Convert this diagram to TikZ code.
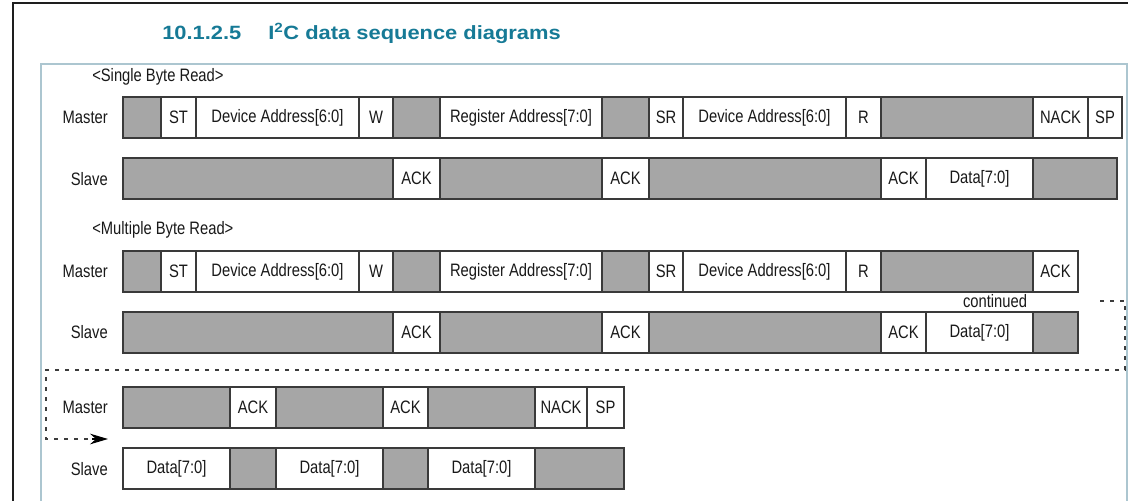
\documentclass[tikz,border=0pt]{standalone}
\usepackage{fontspec}
\setmainfont{Liberation Sans}
\newfontfamily\narrowsans[FakeStretch=0.82]{Liberation Sans}
\newfontfamily\widesans[FakeStretch=1.14]{Liberation Sans}
\usetikzlibrary{arrows.meta}

\definecolor{titleteal}{RGB}{22,122,150}
\definecolor{pageframe}{RGB}{30,30,30}
\definecolor{panelblue}{RGB}{172,198,208}
\definecolor{slotgray}{RGB}{166,166,166}
\definecolor{slotline}{RGB}{58,58,58}
\definecolor{inktext}{RGB}{25,25,25}
\definecolor{guideline}{RGB}{60,60,60}

\newcommand\seqfont{\narrowsans\fontsize{13.5}{15}\selectfont}
\newcommand\headfont{\widesans\fontsize{14.4}{17}\selectfont\bfseries}

\tikzset{
  slot/.style={draw=slotline, line width=0.9pt, fill=white, inner sep=0pt,
               outer sep=0pt, minimum height=30.75pt, text=inktext, font=\seqfont},
  idle/.style={slot, fill=slotgray},
  lane/.style={anchor=east, inner sep=0pt, text=inktext, font=\seqfont},
  caption/.style={anchor=west, inner sep=0pt, text=inktext, font=\seqfont},
  heading/.style={anchor=base west, inner sep=0pt, text=titleteal, font=\headfont},
  wrapline/.style={draw=guideline, line width=0.8pt, dash pattern=on 3pt off 4.5pt},
  wraptip/.style={draw=black, line width=0.8pt, -{Stealth[length=13.5pt, width=8pt, inset=4.5pt]}},
}

% one row of slots: #1 row name, #2 top edge, #3 list of left/right/style/text
\newcommand\slotrow[3]{%
  \foreach \xa/\xb/\sty/\txt [count=\k] in {#3}{%
    \pgfmathsetmacro\slotw{(\xb-\xa)*0.75}%
    \node[\sty, minimum width=\slotw pt, anchor=north west] (#1-\k) at (\xa,#2) {\txt};
  }}

\begin{document}
\begin{tikzpicture}[x=0.75pt, y=-0.75pt]
  \useasboundingbox (0,0) rectangle (1128,500);
  \fill[white] (0,0) rectangle (1128,500);
  \begin{scope}
    \clip (0,0) rectangle (1128,500);
    \draw[pageframe, line width=1.5pt] (13,2.5) rectangle (1150,520);
    \draw[panelblue, line width=1.5pt] (40.5,64) rectangle (1127,520);
  \end{scope}

  % section heading
  \node[heading] (secno) at (162,39.5) {10.1.2.5};
  \node[heading] (sectitle) at (268,39.5) {I\textsuperscript{2}C data sequence diagrams};

  % single byte read
  \node[caption] (single) at (92,77) {<Single Byte Read>};
  \node[lane] (m1lab) at (108,117.5) {Master};
  \node[lane] (s1lab) at (108,179) {Slave};
  \slotrow{m1}{97}{123/161/idle/{}, 161/196/slot/ST, 196/359/slot/{Device Address[6:0]},
    359/393/slot/W, 393/440/idle/{}, 440/602/slot/{Register Address[7:0]}, 602/649/idle/{},
    649/683/slot/SR, 683/846/slot/{Device Address[6:0]}, 846/881/slot/R, 881/1033/idle/{},
    1033/1088/slot/NACK, 1088/1122/slot/SP}
  \slotrow{s1}{158}{123/393/idle/{}, 393/440/slot/ACK, 440/602/idle/{}, 602/649/slot/ACK,
    649/881/idle/{}, 881/926/slot/ACK, 926/1033/slot/{Data[7:0]}, 1033/1117/idle/{}}

  % multiple byte read
  \node[caption] (multi) at (92,230) {<Multiple Byte Read>};
  \node[lane] (m2lab) at (108,271.5) {Master};
  \node[lane] (s2lab) at (108,332.5) {Slave};
  \slotrow{m2}{251}{123/161/idle/{}, 161/196/slot/ST, 196/359/slot/{Device Address[6:0]},
    359/393/slot/W, 393/440/idle/{}, 440/602/slot/{Register Address[7:0]}, 602/649/idle/{},
    649/683/slot/SR, 683/846/slot/{Device Address[6:0]}, 846/881/slot/R, 881/1033/idle/{},
    1033/1078/slot/ACK}
  \slotrow{s2}{312}{123/393/idle/{}, 393/440/slot/ACK, 440/602/idle/{}, 602/649/slot/ACK,
    649/881/idle/{}, 881/926/slot/ACK, 926/1033/slot/{Data[7:0]}, 1033/1078/idle/{}}
  \node[inner sep=0pt, text=inktext, font=\seqfont] (cont) at (995,301) {continued};

  % continuation rows
  \node[lane] (m3lab) at (108,407.5) {Master};
  \node[lane] (s3lab) at (108,469) {Slave};
  \slotrow{m3}{387}{123/230/idle/{}, 230/276/slot/ACK, 276/383/idle/{}, 383/428/slot/ACK,
    428/535/idle/{}, 535/587/slot/NACK, 587/624/slot/SP}
  \slotrow{s3}{448}{123/230/slot/{Data[7:0]}, 230/276/idle/{}, 276/383/slot/{Data[7:0]},
    383/428/idle/{}, 428/535/slot/{Data[7:0]}, 535/624/idle/{}}

  % wrap-around guide from the end of the first line to the next
  \coordinate (wrapstart) at (1100,301);
  \coordinate (wrapright) at (1125,301);
  \coordinate (wrapdown) at (1125,370);
  \coordinate (wrapleft) at (46,370);
  \coordinate (wrapturn) at (46,439);
  \coordinate (wrapneck) at (92,439);
  \coordinate (wrapend) at (108,439);
  \draw[wrapline] (wrapstart) -- (wrapright) -- (wrapdown) -- (wrapleft) -- (wrapturn) -- (wrapneck);
  \draw[wraptip] (wrapneck) -- (wrapend);
\end{tikzpicture}
\end{document}
